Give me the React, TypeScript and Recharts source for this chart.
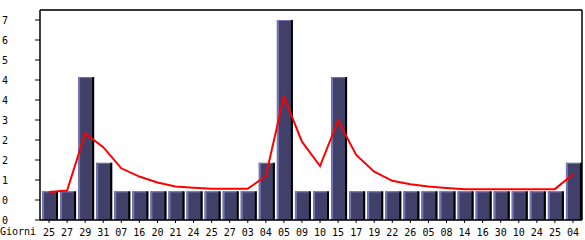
import React from 'react';
import { ComposedChart, Bar, Line, XAxis, YAxis, CartesianGrid, ReferenceLine } from 'recharts';

const days = ['25','27','29','31','07','16','20','21','24','25','27','03','04','05','09','10','15','17','19','22','26','05','08','14','16','30','10','24','25','04'];
const visits = [1,1,5,2,1,1,1,1,1,1,1,1,2,7,1,1,5,1,1,1,1,1,1,1,1,1,1,1,1,2];
const trend = [0.98,1.03,3.03,2.55,1.81,1.52,1.31,1.17,1.13,1.09,1.09,1.09,1.54,4.32,2.74,1.89,3.48,2.28,1.69,1.37,1.25,1.17,1.12,1.08,1.08,1.08,1.08,1.08,1.08,1.6];
const yTicks = [0,0.7,1.4,2.1,2.8,3.5,4.2,4.9,5.6,6.3,7.0];
const yTickLabels = ['0','0','1','2','2','3','4','4','5','6','7'];
const yMax = 7.35;
const xTitle = 'Giorni';

const data = days.map((d, i) => ({ day: d, visits: visits[i], trend: trend[i] }));

const FONT = '"DejaVu Sans Mono", monospace';

const BarShape = (props: any) => {
  const { x, y, width, height } = props;
  if (!height || height <= 0) return null;
  const bx = x + 1;
  return (
    <g>
      <rect x={bx} y={y} width={width} height={height} fill="#404068" />
      <rect x={bx} y={y} width={2} height={height} fill="#7474b4" />
      <rect x={bx} y={y} width={width} height={1} fill="#7474b4" />
      <rect x={bx + width - 2} y={y} width={2} height={height} fill="#000000" />
    </g>
  );
};

const YTick = (props: any) => {
  const { y, payload } = props;
  const idx = yTicks.findIndex((t) => Math.abs(t - payload.value) < 1e-6);
  return (
    <text x={2} y={y} dy="0.35em" fontFamily={FONT} fontSize={10} fill="#000" textAnchor="start">
      {idx >= 0 ? yTickLabels[idx] : ''}
    </text>
  );
};

const XTick = (props: any) => {
  const { x, y, payload } = props;
  return (
    <text x={x} y={y + 7} dy="0.35em" fontFamily={FONT} fontSize={10} fill="#000" textAnchor="middle">
      {payload.value}
    </text>
  );
};

export default function App() {
  return (
    <div style={{ position: 'absolute', left: 0, top: 0, width: 585, height: 240, background: '#fff' }}>
      <ComposedChart width={585} height={240} data={data} margin={{ top: 10, right: 0, bottom: 0, left: 0 }} barCategoryGap={1}>
        <CartesianGrid vertical={false} stroke="#b4b4b4" strokeWidth={1} />
        <XAxis
          dataKey="day"
          height={20}
          axisLine={{ stroke: '#000', strokeWidth: 1.5 }}
          tickLine={{ stroke: '#000' }}
          tickSize={3}
          interval={0}
          tick={<XTick />}
          label={{
            content: () => (
              <text x={0} y={231} dy="0.35em" fontFamily={FONT} fontSize={10} fill="#000">
                {xTitle}
              </text>
            ),
          }}
        />
        <YAxis
          yAxisId="left"
          width={40}
          domain={[0, yMax]}
          ticks={yTicks}
          interval={0}
          axisLine={{ stroke: '#000', strokeWidth: 1.5 }}
          tickLine={{ stroke: '#000' }}
          tickSize={5}
          tick={<YTick />}
        />
        <YAxis
          yAxisId="right"
          orientation="right"
          width={3}
          domain={[0, yMax]}
          tick={false}
          tickLine={false}
          axisLine={{ stroke: '#000', strokeWidth: 1.5 }}
        />
        <ReferenceLine yAxisId="left" y={yMax} stroke="#000" strokeWidth={1.5} />
        <Bar yAxisId="left" dataKey="visits" shape={<BarShape />} isAnimationActive={false} />
        <Line yAxisId="left" type="linear" dataKey="trend" stroke="#ff0000" strokeWidth={2} dot={false} activeDot={false} isAnimationActive={false} />
      </ComposedChart>
    </div>
  );
}
